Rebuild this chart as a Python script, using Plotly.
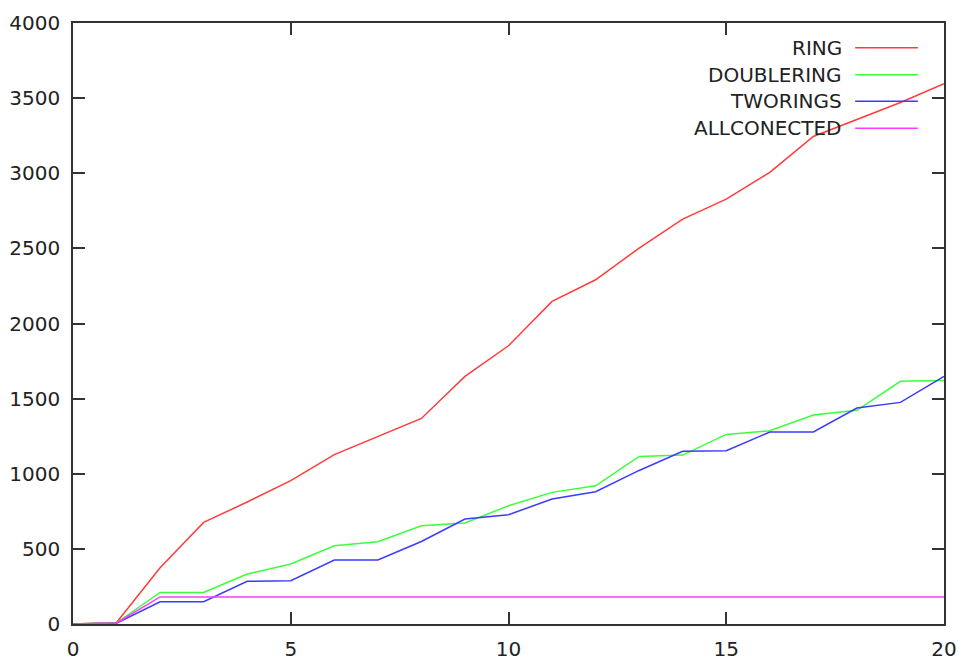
import plotly.graph_objects as go

x_vals = list(range(0, 21))
ring = [0, 10, 375, 676, 812, 954, 1127, 1249, 1368, 1648, 1852, 2147, 2291, 2502, 2695, 2828, 3006, 3245, 3356, 3471, 3596]
doublering = [0, 8, 210, 210, 333, 399, 521, 548, 654, 672, 787, 876, 920, 1115, 1124, 1262, 1286, 1391, 1422, 1615, 1621]
tworings = [0, 5, 148, 148, 284, 288, 426, 426, 549, 699, 727, 832, 880, 1022, 1149, 1153, 1278, 1278, 1437, 1475, 1648]
allconected = [0, 7, 180, 180, 180, 180, 180, 180, 180, 180, 180, 180, 180, 180, 180, 180, 180, 180, 180, 180, 180]

names = ["RING", "DOUBLERING", "TWORINGS", "ALLCONECTED"]
colors = ["#ff3b3b", "#3bff3b", "#3b3bff", "#ff3bff"]
series = [ring, doublering, tworings, allconected]

fig = go.Figure()
for name, col, ys in zip(names, colors, series):
    fig.add_trace(go.Scatter(x=x_vals, y=ys, mode="lines", name=name,
                             line=dict(color=col, width=1.5), showlegend=False))

# gnuplot-style legend: text right-aligned, sample line to the right
leg_y = [0.959, 0.914, 0.870, 0.825]
for name, col, yy in zip(names, colors, leg_y):
    fig.add_annotation(x=0.882, y=yy, xref="paper", yref="paper", text=name,
                       showarrow=False, xanchor="right", yanchor="middle",
                       xshift=3,
                       font=dict(family="DejaVu Sans", size=20, color="#222222"))
    fig.add_shape(type="line", xref="paper", yref="paper", x0=0.898, x1=0.970,
                  y0=yy, y1=yy, line=dict(color=col, width=1.5))

axis_common = dict(showgrid=False, zeroline=False, showline=True, linecolor="#333333",
                   linewidth=1.5, mirror="ticks", ticks="inside", ticklen=12,
                   tickwidth=1.5, tickcolor="#333333", automargin=False,
                   tickfont=dict(family="DejaVu Sans", size=20, color="#222222"))

fig.update_xaxes(range=[0, 20], tickvals=[0, 5, 10, 15, 20], ticklabelstandoff=6,
                 **axis_common)
fig.update_yaxes(range=[0, 4000], tickvals=list(range(0, 4001, 500)), ticklabelstandoff=7,
                 **axis_common)

fig.update_layout(width=949, height=653, plot_bgcolor="white", paper_bgcolor="white",
                  margin=dict(l=65, r=13, t=15, b=37, pad=0))

fig.write_html("out.html")
